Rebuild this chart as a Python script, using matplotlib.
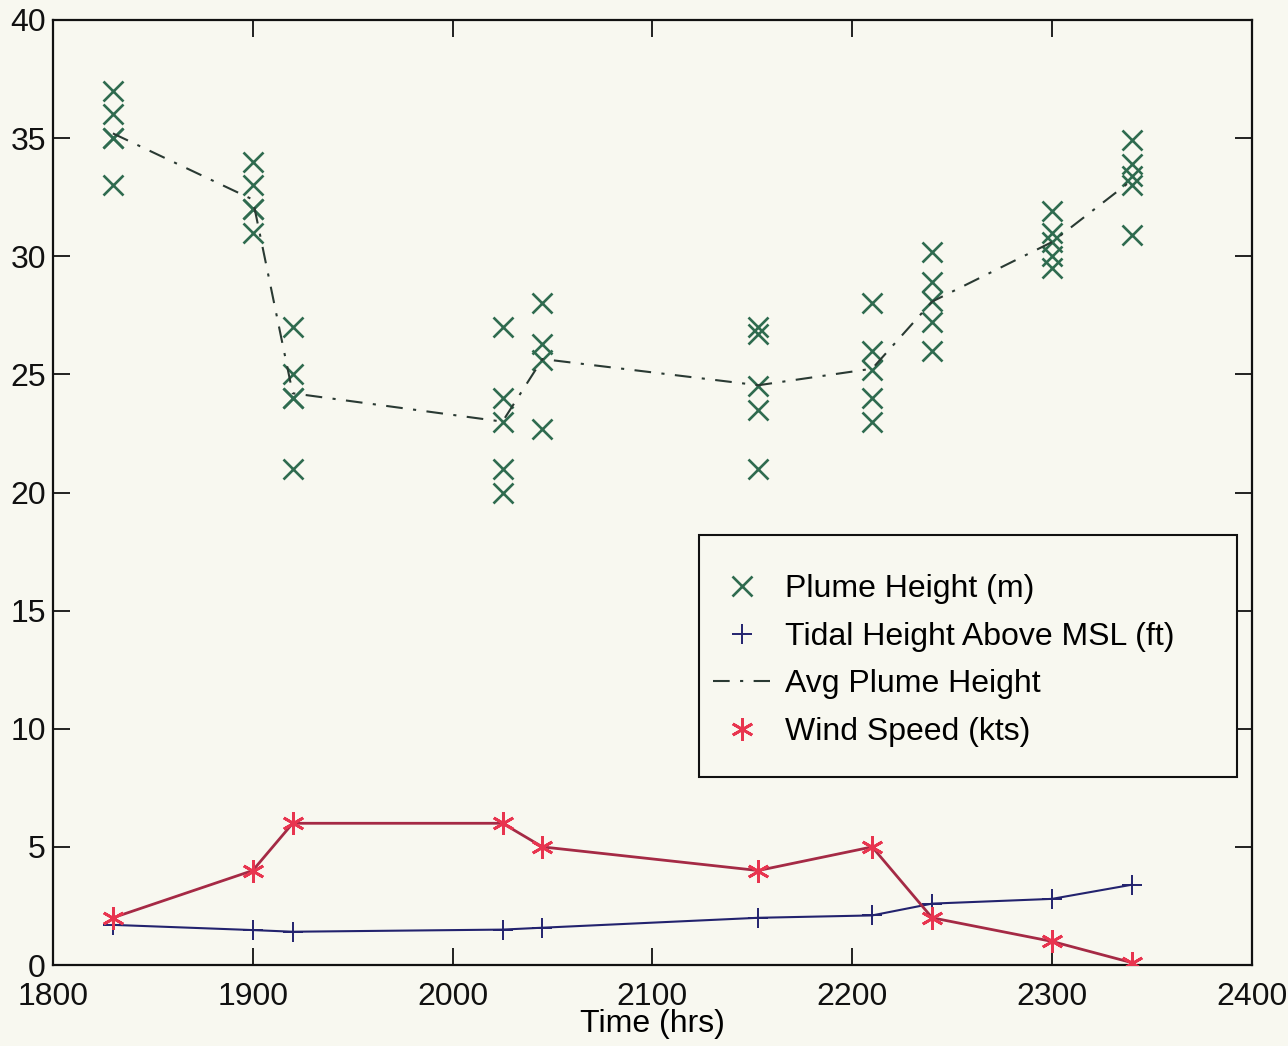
"""
Plume height, tidal height and wind speed over time
"""
import numpy as np
import matplotlib
matplotlib.use('Agg')
import matplotlib.pyplot as plt
from matplotlib.lines import Line2D
from matplotlib.patches import Rectangle

plt.rcParams['font.family'] = ['Liberation Sans', 'DejaVu Sans']

# observation times (hrs)
times = [1830, 1900, 1920, 2025, 2045, 2153, 2210, 2240, 2300, 2340]

# individual plume height readings (m) for each time
plume_heights = [
    [37.0, 36.0, 35.0, 35.0, 33.0],
    [34.0, 33.0, 32.0, 32.0, 31.0],
    [27.0, 25.0, 24.0, 24.0, 21.0],
    [27.0, 24.0, 23.0, 21.0, 20.0],
    [28.0, 26.3, 25.6, 22.7],
    [27.0, 26.7, 24.5, 23.5, 21.0],
    [28.0, 26.0, 25.2, 24.0, 23.0],
    [30.2, 28.9, 28.1, 27.2, 26.0],
    [31.9, 31.0, 30.6, 30.0, 29.5],
    [34.9, 33.9, 33.4, 33.0, 30.9],
]

tidal_height = [1.7, 1.48, 1.41, 1.5, 1.58, 2.0, 2.1, 2.6, 2.8, 3.4]
wind_speed = [2, 4, 6, 6, 5, 4, 5, 2, 1, 0.1]

xticks = [1800, 1900, 2000, 2100, 2200, 2300, 2400]
yticks = [0, 5, 10, 15, 20, 25, 30, 35, 40]
labels = ['Plume Height (m)', 'Tidal Height Above MSL (ft)',
          'Avg Plume Height', 'Wind Speed (kts)']

bg = '#f8f8f0'
green = '#2f6b4f'
navy = '#23236e'
red_line = '#a52a45'
red_mark = '#e8354f'
avg_col = '#2a3a33'
fs = 23

avg_style = (0, (8, 5, 1.5, 5))
cross = dict(marker='x', markersize=14, markeredgewidth=1.9, color=green)
plus = dict(marker='+', markersize=15, markeredgewidth=1.4, color=navy)
star = dict(marker=(6, 2, 0), markersize=16, markeredgewidth=2, color=red_mark)

fig = plt.figure(figsize=(12.88, 10.46), dpi=100, facecolor=bg)
ax = fig.add_axes([0.0411, 0.0774, 0.9308, 0.9035])
ax.set_facecolor(bg)

# scatter of all plume readings
px = [t for t, hs in zip(times, plume_heights) for _ in hs]
py = [h for hs in plume_heights for h in hs]
ax.plot(px, py, linestyle='none', **cross)

ax.plot(times, tidal_height, linewidth=1.5, **plus)

avg = [np.mean(hs) for hs in plume_heights]
ax.plot(times, avg, color=avg_col, linewidth=1.5, linestyle=avg_style)

ax.plot(times, wind_speed, color=red_line, linewidth=2, zorder=3)
ax.plot(times, wind_speed, linestyle='none', zorder=4, **star)

ax.set_xlim(1800, 2400)
ax.set_ylim(0, 40)
ax.set_xticks(xticks)
ax.set_yticks(yticks)
ax.tick_params(direction='in', length=12, width=1.3, labelsize=fs,
               top=True, right=True, colors='#111111')
ax.tick_params(axis='x', pad=12)
ax.tick_params(axis='y', pad=5)
for s in ax.spines.values():
    s.set_linewidth(1.6)
    s.set_color('#111111')

ax.set_xlabel('Time (hrs)', fontsize=fs, labelpad=-2)

# legend: markers only, drawn inside a plain box
handles = [
    Line2D([], [], linestyle='none', **cross),
    Line2D([], [], linestyle='none', **plus),
    Line2D([], [], color=avg_col, linewidth=1.5, linestyle=avg_style),
    Line2D([], [], linestyle='none', **star),
]
ax.add_patch(Rectangle((0.539, 0.199), 0.449, 0.256, transform=ax.transAxes,
                       facecolor=bg, edgecolor='#111111', linewidth=1.5, zorder=5))
leg = ax.legend(handles, labels, loc='center left', bbox_to_anchor=(0.5505, 0.3222),
                fontsize=fs, frameon=False, borderpad=0, labelspacing=0.55,
                handlelength=1.8, handletextpad=0.47, borderaxespad=0)
leg.set_zorder(6)

plt.savefig('out.png', dpi=100, facecolor=bg)
plt.close()
